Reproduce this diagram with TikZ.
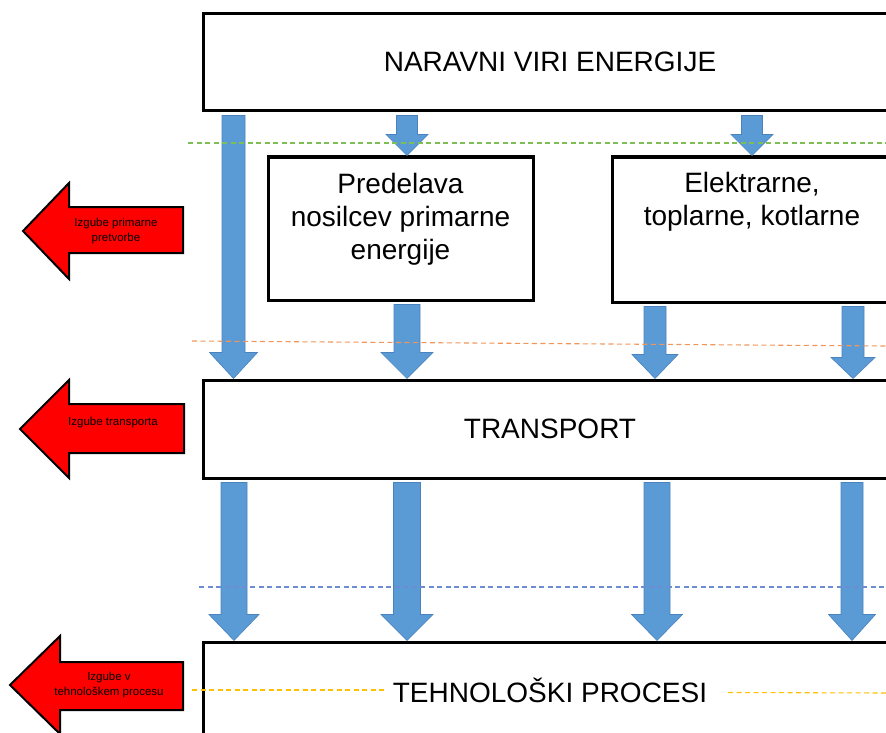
\documentclass[tikz,border=0pt]{standalone}
\usepackage{fontspec}
\setmainfont{Liberation Sans}
\usetikzlibrary{calc}
\definecolor{flowblue}{RGB}{91,155,213}
\definecolor{flowedge}{RGB}{74,130,190}
\definecolor{lossred}{RGB}{255,0,0}
\definecolor{dgreen}{RGB}{125,190,85}
\definecolor{dorange}{RGB}{240,150,90}
\definecolor{dblue}{RGB}{110,140,210}
\definecolor{dyellow}{RGB}{255,192,0}
\tikzset{
  stagebox/.style={draw=black, line width=3pt, fill=white, inner sep=0pt},
  bigtext/.style={font=\fontsize{28}{33}\selectfont, align=center, inner sep=0pt},
  blockarrow/.style={fill=flowblue, draw=flowedge, line width=0.6pt},
  lossarrow/.style={fill=lossred, draw=black, line width=2pt, line join=miter},
  losstext/.style={font=\fontsize{11.5}{14.5}\selectfont, align=center, inner sep=0pt},
  levelline/.style={line width=1.1pt, dash pattern=on 5pt off 3.5pt}
}
% downward block arrow from the bottom of one node to the top of another
% #1 source node, #2 target node, #3 x position, #4 half shaft width,
% #5 half head width, #6 head length
\newcommand\flowarrow[6]{%
  \path[blockarrow] let \p1=(#1.south), \p2=(#2.north) in
    (#3pt-#4pt,\y1-3pt) -- (#3pt+#4pt,\y1-3pt) -- (#3pt+#4pt,\y2+#6pt)
    -- (#3pt+#5pt,\y2+#6pt) -- (#3pt,\y2) -- (#3pt-#5pt,\y2+#6pt)
    -- (#3pt-#4pt,\y2+#6pt) -- cycle;}
\begin{document}
\begin{tikzpicture}[x=1pt, y=-1pt]
\useasboundingbox (0,0) rectangle (886,733);
\clip (0,0) rectangle (886,733);

% stages of the energy chain
\node[stagebox, minimum width=694pt, minimum height=97pt] (nar) at (550,62.5) {};
\node[bigtext] (nartext) at (550,62) {NARAVNI VIRI ENERGIJE};

\node[stagebox, minimum width=265pt, minimum height=143pt] (pred) at (400.5,228.5) {};
\node[bigtext, anchor=north] (predtext) at (400.5,173) {Predelava\\nosilcev primarne\\energije};

\node[stagebox, minimum width=280pt, minimum height=145pt] (elek) at (752,229.5) {};
\node[bigtext, anchor=north] (elektext) at (752,172) {Elektrarne,\\toplarne, kotlarne};

\node[stagebox, minimum width=694pt, minimum height=98pt] (trans) at (550,429) {};
\node[bigtext] (transtext) at (550,429) {TRANSPORT};

\node[stagebox, minimum width=694pt, minimum height=98pt] (teh) at (550,691) {};
\node[bigtext] (tehtext) at (550,690) {TEHNOLOŠKI PROCESI};

% energy flows
\flowarrow{nar}{trans}{233.5}{11.5}{24}{26}
\flowarrow{nar}{pred}{407}{10.5}{21}{21}
\flowarrow{nar}{elek}{752}{10.5}{21}{21}
\flowarrow{pred}{trans}{407}{13}{26}{26}
\flowarrow{elek}{trans}{655}{11}{23}{24}
\flowarrow{elek}{trans}{853}{11}{22}{21}
\flowarrow{trans}{teh}{234}{13}{25}{26}
\flowarrow{trans}{teh}{407}{13.5}{26}{26}
\flowarrow{trans}{teh}{657}{13}{25.5}{26}
\flowarrow{trans}{teh}{852}{11}{23.5}{26}

% level separators
\coordinate (g1) at (188,143);  \coordinate (g2) at (886,143);
\coordinate (o1) at (192,341);  \coordinate (o2) at (886,346);
\coordinate (b1) at (199,587);  \coordinate (b2) at (886,587);
\coordinate (y1) at (192,690);  \coordinate (y2) at (385,690);
\coordinate (y3) at (728,692.5);  \coordinate (y4) at (886,693);
\draw[levelline, dgreen] (g1) -- (g2);
\draw[levelline, dorange] (o1) -- (o2);
\draw[levelline, dblue] (b1) -- (b2);
\draw[levelline, dyellow] (y1) -- (y2);
\draw[levelline, dyellow] (y3) -- (y4);

% losses
\draw[lossarrow] (23,231) -- (69,183) -- (69,207) -- (183,207) -- (183,253)
  -- (69,253) -- (69,279) -- cycle;
\node[losstext] (loss1) at (116,231) {Izgube primarne\\pretvorbe};

\draw[lossarrow] (20,429) -- (69,380) -- (69,404) -- (184,404) -- (184,453)
  -- (69,453) -- (69,478) -- cycle;
\node[losstext] (loss2) at (113,423) {Izgube transporta};

\draw[lossarrow] (10,685) -- (60,636) -- (60,662) -- (183,662) -- (183,710)
  -- (60,710) -- (60,734) -- cycle;
\node[losstext] (loss3) at (109,685) {Izgube v\\tehnološkem procesu};
\end{tikzpicture}
\end{document}
